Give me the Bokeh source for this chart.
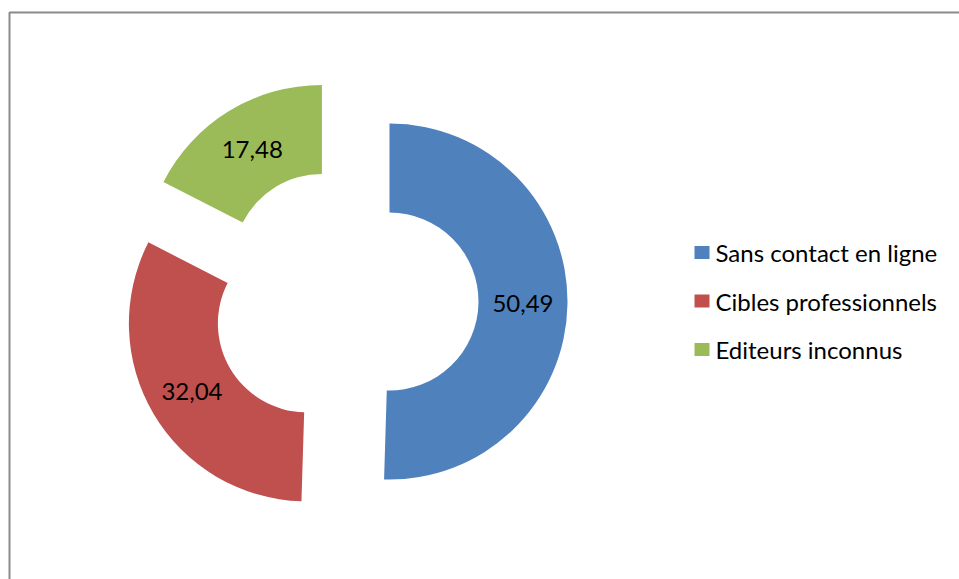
import math
from bokeh.plotting import figure
from bokeh.models import Range1d, ColumnDataSource
from bokeh.core.properties import value
from bokeh.embed import file_html
from bokeh.resources import INLINE

categories = ["Sans contact en ligne", "Cibles professionnels", "Editeurs inconnus"]
values = [50.49, 32.04, 17.48]
labels = ["50,49", "32,04", "17,48"]
colors = ["#4F81BD", "#C0504D", "#9BBB59"]

W, H = 959, 579
FONT = "Lato"

p = figure(width=W, height=H, output_backend="svg", toolbar_location=None,
           x_range=Range1d(0, W), y_range=Range1d(0, H), min_border=0)
p.axis.visible = False
p.grid.visible = False
p.outline_line_color = None
p.background_fill_color = "white"
p.border_fill_color = "white"

# chart frame (screen coords -> data y = H - screen y)
p.quad(left=[9], right=[W + 20], top=[H - 12], bottom=[-20],
       fill_color=None, line_color="#8a8a8a", line_width=2)

# donut geometry
cx, cy = 344.6, H - 300.3
R_out, R_in = 178.0, 89.0
explode = 44.4

total = sum(values)
xs, ys, starts, ends, lx, ly = [], [], [], [], [], []
acc = 0.0
for v in values:
    t0 = acc / total * 2 * math.pi
    acc += v
    t1 = acc / total * 2 * math.pi
    tm = (t0 + t1) / 2
    ox = cx + explode * math.sin(tm)
    oy = cy + explode * math.cos(tm)
    xs.append(ox)
    ys.append(oy)
    starts.append(math.pi / 2 - t0)
    ends.append(math.pi / 2 - t1)
    rm = (R_out + R_in) / 2
    lx.append(ox + rm * math.sin(tm))
    ly.append(oy + rm * math.cos(tm))

src = ColumnDataSource(dict(x=xs, y=ys, s=starts, e=ends, c=colors,
                            lx=lx, ly=ly, t=labels))
p.annular_wedge(x="x", y="y", inner_radius=R_in, outer_radius=R_out,
                start_angle="s", end_angle="e", direction="clock",
                fill_color="c", line_color=None, source=src)
p.text(x="lx", y="ly", text="t", text_align="center", text_baseline="middle",
       text_font=value(FONT), text_font_size="24px", text_color="black", source=src)

# legend
leg_y = [H - 252, H - 300.5, H - 349]
p.rect(x=[701.5] * 3, y=leg_y, width=15, height=13, fill_color=colors, line_color=None)
p.text(x=[715] * 3, y=leg_y, text=categories, text_align="left", text_baseline="middle",
       text_font=value(FONT), text_font_size="24px", text_color="black")

open("out.html", "w").write(file_html(p, INLINE))
